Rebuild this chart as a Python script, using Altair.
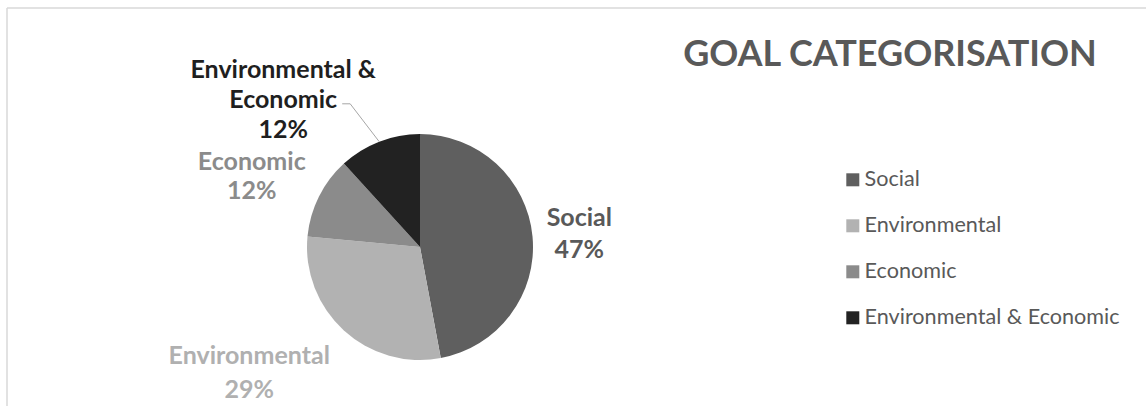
import altair as alt
import pandas as pd

# ---- data ----
categories = ["Social", "Environmental", "Economic", "Environmental & Economic"]
goal_counts = [8, 5, 2, 2]
label_names = ["Social", "Environmental", "Economic", "Environmental &\nEconomic"]

# ---- styles ----
slice_colors = ["#5f5f5f", "#b2b2b2", "#8b8b8b", "#222222"]
label_colors = ["#595959", "#b0b0b0", "#8b8b8b", "#1f1f1f"]
FONT = "Lato"
CX, CY, R = 420, 247, 113
LABEL_R = 160
# nudges place the first text line of each label
nudges = {
    "Social": (0, -14),
    "Environmental": (-63, -9),
    "Economic": (-25, -14),
    "Environmental & Economic": (-79, -28),
}
line_heights = {
    "Social": 32,
    "Environmental": 34,
    "Economic": 29,
    "Environmental & Economic": 30,
}

df = pd.DataFrame({
    "category": categories,
    "count": goal_counts,
    "label_name": label_names,
    "order": list(range(len(categories))),
})

base = (
    alt.Chart(df)
    .transform_joinaggregate(total="sum(count)")
    .transform_window(cum="sum(count)", sort=[alt.SortField("order")])
    .transform_calculate(
        mid="2*PI*(datum.cum - datum.count/2)/datum.total",
        pct="format(datum.count/datum.total, '.0%')",
    )
)

pie = alt.Chart(df).mark_arc(outerRadius=R).encode(
    theta=alt.Theta("count:Q", stack=True),
    order=alt.Order("order:O"),
    color=alt.Color(
        "category:N",
        sort=categories,
        scale=alt.Scale(domain=categories, range=slice_colors),
        legend=alt.Legend(
            title=None, orient="none", legendX=842, legendY=169,
            symbolType="square", symbolSize=169, symbolStrokeWidth=0,
            symbolOpacity=1, labelFont=FONT, labelFontSize=21.6,
            labelColor="#595959", labelOffset=1, rowPadding=23.0, padding=0,
            labelLimit=0,
        ),
    ),
    x=alt.value(CX),
    y=alt.value(CY),
)

layers = []
for cat, col in zip(categories, label_colors):
    dx, dy = nudges[cat]
    lyr = (
        base.transform_filter(alt.datum.category == cat)
        .transform_calculate(
            lx=f"{CX} + {LABEL_R}*sin(datum.mid)",
            ly=f"{CY} - {LABEL_R}*cos(datum.mid)",
            txt="datum.label_name + '\\n' + datum.pct",
        )
        .mark_text(font=FONT, fontSize=25, fontWeight="bold", color=col,
                   align="center", baseline="middle",
                   lineHeight=line_heights[cat],
                   lineBreak="\n", dx=dx, dy=dy)
        .encode(x=alt.X("lx:Q", scale=None), y=alt.Y("ly:Q", scale=None),
                text="txt:N")
    )
    layers.append(lyr)

# leader line for the Environmental & Economic label
ee_dx, ee_dy = nudges[categories[3]]
leader_src = base.transform_filter(alt.datum.category == categories[3]).transform_calculate(
    cxl=f"{CX} + {LABEL_R}*sin(datum.mid) + {ee_dx}",
    cyl=f"{CY} - {LABEL_R}*cos(datum.mid) + {ee_dy}",
    ex=f"{CX} + {R}*sin(datum.mid)",
    ey=f"{CY} - {R}*cos(datum.mid)",
).transform_calculate(
    sx="datum.cxl + 59", sy="datum.cyl + 34",
    kx="datum.cxl + 67", ky="datum.cyl + 34",
)
leader1 = leader_src.mark_rule(color="#a6a6a6", strokeWidth=1).encode(
    x=alt.X("sx:Q", scale=None), y=alt.Y("sy:Q", scale=None),
    x2="kx:Q", y2="ky:Q")
leader2 = leader_src.mark_rule(color="#a6a6a6", strokeWidth=1).encode(
    x=alt.X("kx:Q", scale=None), y=alt.Y("ky:Q", scale=None),
    x2="ex:Q", y2="ey:Q")

one = pd.DataFrame({"k": [0]})
frame_left = alt.Chart(one).mark_rule(color="#d9d9d9", strokeWidth=1.5).encode(
    x=alt.value(7), y=alt.value(8), y2=alt.value(406))
frame_top = alt.Chart(one).mark_rule(color="#d9d9d9", strokeWidth=1.5).encode(
    x=alt.value(7), x2=alt.value(1146), y=alt.value(8))

title = alt.Chart(pd.DataFrame({"t": ["GOAL CATEGORISATION"]})).mark_text(
    font=FONT, fontSize=36, fontWeight="bold", color="#595959",
    align="center", baseline="middle",
).encode(text="t:N", x=alt.value(890), y=alt.value(55))

chart = alt.layer(frame_left, frame_top, pie, leader1, leader2, *layers, title).properties(
    width=1146, height=406, padding=0,
    autosize=alt.AutoSizeParams(type="none"),
    background="white",
).configure_view(stroke=None)

chart.save("out.html", embed_options={"renderer": "svg", "actions": False})
